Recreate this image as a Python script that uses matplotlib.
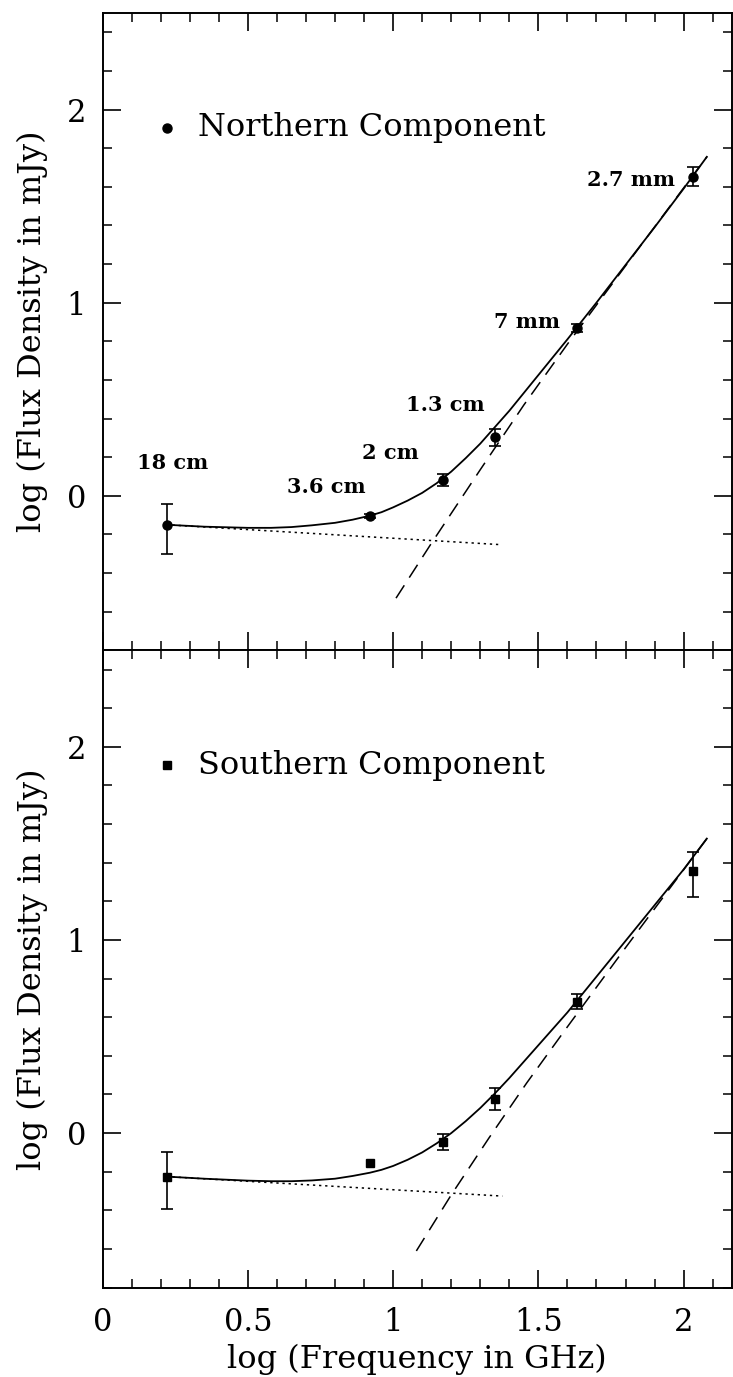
import numpy as np
import matplotlib
matplotlib.use('Agg')
import matplotlib.pyplot as plt
from matplotlib.ticker import MultipleLocator, FormatStrFormatter

plt.rcParams['font.family'] = ['DejaVu Serif']

# observed points, log(frequency in GHz)
freq_log = [0.222, 0.922, 1.172, 1.352, 1.634, 2.033]
band_labels = ['18 cm', '3.6 cm', '2 cm', '1.3 cm', '7 mm', '2.7 mm']

north_flux = [-0.150, -0.105, 0.082, 0.302, 0.867, 1.652]
north_err_lo = [0.15, 0.012, 0.03, 0.045, 0.02, 0.05]
north_err_hi = [0.11, 0.012, 0.03, 0.045, 0.02, 0.05]

south_flux = [-0.225, -0.154, -0.046, 0.179, 0.680, 1.358]
south_err_lo = [0.17, 0.0, 0.04, 0.057, 0.038, 0.135]
south_err_hi = [0.128, 0.0, 0.04, 0.057, 0.038, 0.10]

# model curves
fit_x = [0.22, 0.35, 0.50, 0.58, 0.65, 0.72, 0.80, 0.86, 0.92, 0.96, 1.00, 1.05, 1.10,
         1.15, 1.20, 1.25, 1.30, 1.35, 1.40, 1.50, 1.60, 1.70, 1.80, 1.90, 2.00, 2.08]
north_fit = [-0.150, -0.160, -0.166, -0.166, -0.162, -0.153, -0.140, -0.124, -0.103, -0.085,
             -0.060, -0.025, 0.015, 0.065, 0.125, 0.195, 0.270, 0.355, 0.440, 0.625, 0.810,
             1.000, 1.195, 1.390, 1.590, 1.755]
south_fit = [-0.225, -0.236, -0.246, -0.249, -0.249, -0.245, -0.236, -0.222, -0.205, -0.190,
             -0.170, -0.138, -0.100, -0.053, 0.000, 0.062, 0.130, 0.205, 0.285, 0.455, 0.625,
             0.810, 0.995, 1.180, 1.365, 1.525]

north_dot_x = [0.22, 1.37]
north_dot_y = [-0.150, -0.253]
south_dot_x = [0.22, 1.376]
south_dot_y = [-0.225, -0.326]

north_dash_x = [1.01, 1.13, 1.30, 1.45, 1.60, 1.80, 2.08]
north_dash_y = [-0.53, -0.25, 0.135, 0.47, 0.785, 1.19, 1.755]
south_dash_x = [1.08, 1.20, 1.33, 1.46, 1.59, 1.80, 2.08]
south_dash_y = [-0.61, -0.32, -0.025, 0.26, 0.53, 0.96, 1.525]

label_xy = [(0.24, 0.17), (0.77, 0.045), (0.99, 0.22), (1.18, 0.47), (1.46, 0.90), (1.82, 1.635)]

fig, (ax1, ax2) = plt.subplots(2, 1, figsize=(7.33, 13.77), dpi=100, sharex=True)
fig.subplots_adjust(left=0.140, right=0.998, top=0.9906, bottom=0.0649, hspace=0)


def draw_panel(ax, flux, elo, ehi, fit, dx, dy, wx, wy, marker, ms, name):
    ax.plot(fit_x, fit, color='black', lw=1.3)
    ax.plot(dx, dy, color='black', lw=1.1, dashes=(1.5, 2.5))
    ax.plot(wx, wy, color='black', lw=1.1, dashes=(10, 6))
    for x, y, lo, hi in zip(freq_log, flux, elo, ehi):
        if lo > 0 or hi > 0:
            ax.errorbar([x], [y], yerr=[[lo], [hi]], fmt='none', ecolor='black',
                        elinewidth=1.2, capsize=4, capthick=1.2)
    ax.plot(freq_log, flux, linestyle='none', marker=marker, ms=ms, color='black')
    ax.plot([0.22], [1.905], linestyle='none', marker=marker, ms=ms, color='black')
    ax.text(0.33, 1.905, name, fontsize=23, va='center', ha='left')

    ax.set_xlim(0, 2.165)
    ax.set_ylim(-0.8, 2.5)
    ax.xaxis.set_major_locator(MultipleLocator(0.5))
    ax.xaxis.set_minor_locator(MultipleLocator(0.1))
    ax.yaxis.set_major_locator(MultipleLocator(1))
    ax.yaxis.set_minor_locator(MultipleLocator(0.2))
    ax.xaxis.set_major_formatter(FormatStrFormatter('%g'))
    ax.yaxis.set_major_formatter(FormatStrFormatter('%g'))
    ax.tick_params(which='both', direction='in', top=True, right=True, labelsize=22)
    ax.tick_params(axis='x', pad=14)
    ax.tick_params(axis='y', pad=12)
    ax.tick_params(which='major', length=13, width=1.2)
    ax.tick_params(which='minor', length=6.5, width=1.1)
    for s in ax.spines.values():
        s.set_linewidth(1.4)
    ax.set_ylabel('log (Flux Density in mJy)', fontsize=23)
    ax.yaxis.set_label_coords(-0.087, 0.5)


draw_panel(ax1, north_flux, north_err_lo, north_err_hi, north_fit,
           north_dot_x, north_dot_y, north_dash_x, north_dash_y, 'o', 6.5, 'Northern Component')
draw_panel(ax2, south_flux, south_err_lo, south_err_hi, south_fit,
           south_dot_x, south_dot_y, south_dash_x, south_dash_y, 's', 5.5, 'Southern Component')

for lab, (tx, ty) in zip(band_labels, label_xy):
    ax1.text(tx, ty, lab, fontsize=15, fontweight='bold', ha='center', va='center')

ax1.tick_params(labelbottom=False)
ax2.set_xlabel('log (Frequency in GHz)', fontsize=23)
ax2.xaxis.set_label_coords(0.5, -0.088)

fig.savefig('out.png', dpi=100)
